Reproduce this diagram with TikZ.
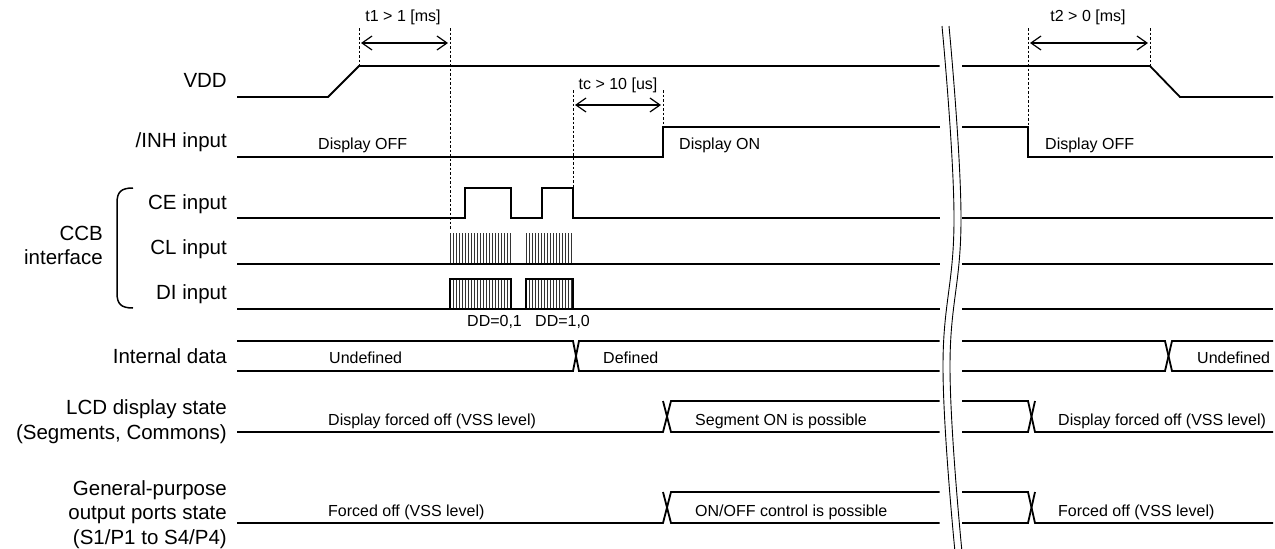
\documentclass[tikz,border=0pt]{standalone}
\usepackage{fontspec}
\setmainfont{Liberation Sans}
\usetikzlibrary{arrows.meta}
\begin{document}
\begin{tikzpicture}[x=1pt,y=-1pt,
  sig/.style={line width=1.8pt, line join=miter},
  guide/.style={line width=0.8pt, dash pattern=on 2.5pt off 2pt},
  dimarrow/.style={line width=1.2pt, {Straight Barb[length=10pt,width=14pt]}-{Straight Barb[length=10pt,width=14pt]}},
  lbl/.style={font=\fontsize{20.5}{24.5}\selectfont, anchor=base east, align=right, inner sep=0pt},
  txt/.style={font=\fontsize{16}{19}\selectfont, anchor=base west, inner sep=0pt},
  ctxt/.style={font=\fontsize{16}{19}\selectfont, anchor=base, inner sep=0pt},
  brk/.style={line width=0.9pt},
  hatch/.style={line width=0.9pt, black!80},
  burstbox/.style={line width=1.5pt}
]
\useasboundingbox (0,0) rectangle (1275,549);

% ---- row labels (base = baseline of the last line)
\node[lbl] (lvdd) at (227,87) {VDD};
\node[lbl] (linh) at (227,147) {/INH input};
\node[lbl] (lce) at (227,209) {CE input};
\node[lbl] (lcl) at (227,254) {CL input};
\node[lbl] (ldi) at (227,299) {DI input};
\node[lbl] (lccb) at (103,264.5) {CCB\\interface};
\node[lbl] (lid) at (227,363) {Internal data};
\node[lbl] (llcd) at (227,439) {LCD display state\\(Segments, Commons)};
\node[lbl] (lgpo) at (227,544) {General-purpose\\output ports state\\(S1/P1 to S4/P4)};

% ---- bracket for CCB interface
\draw[line width=1.5pt] (133,188) .. controls (121,188) and (117,192) .. (117,203)
  -- (117,293) .. controls (117,304) and (121,308) .. (133,308);

% ---- VDD
\draw[sig] (237,97) -- (328,97) -- (359,66) -- (939.5,66);
\draw[sig] (962,66) -- (1150,66) -- (1180,97) -- (1273,97);

% ---- /INH
\draw[sig] (237,157) -- (663,157) -- (663,127) -- (939.5,127);
\draw[sig] (962,127) -- (1028,127) -- (1028,157) -- (1273,157);
\node[txt] (inhoff) at (318,149) {Display OFF};
\node[txt] (inhon) at (679,149) {Display ON};
\node[txt] (inhoff2) at (1045,149) {Display OFF};

% ---- CE
\draw[sig] (237,218) -- (465,218) -- (465,188) -- (511,188) -- (511,218)
  -- (542,218) -- (542,188) -- (573,188) -- (573,218) -- (939.5,218);
\draw[sig] (962,218) -- (1273,218);

% ---- CL
\foreach \x in {450,453,...,511} \draw[hatch] (\x,233) -- (\x,264);
\foreach \x in {526,529,...,573} \draw[hatch] (\x,233) -- (\x,264);
\draw[sig] (237,264) -- (939.5,264);
\draw[sig] (962,264) -- (1273,264);

% ---- DI
\foreach \x in {450,453,...,511} \draw[hatch] (\x,279) -- (\x,309);
\foreach \x in {526,529,...,573} \draw[hatch] (\x,279) -- (\x,309);
\draw[burstbox] (450,309) -- (450,279) -- (511,279) -- (511,309);
\draw[burstbox] (526,309) -- (526,279) -- (573,279) -- (573,309);
\draw[sig] (237,309) -- (939.5,309);
\draw[sig] (962,309) -- (1273,309);
\node[txt] (dd01) at (467,326) {DD=0,1};
\node[txt] (dd10) at (535,326) {DD=1,0};

% ---- Internal data
\draw[sig] (237,341) -- (573,341) -- (579,371) -- (939.5,371);
\draw[sig] (237,371) -- (573,371) -- (579,341) -- (939.5,341);
\draw[sig] (962,341) -- (1165,341) -- (1172,371) -- (1273,371);
\draw[sig] (962,371) -- (1165,371) -- (1172,341) -- (1273,341);
\node[txt] (undef) at (329,363) {Undefined};
\node[txt] (def) at (603,363) {Defined};
\node[txt] (undef2) at (1197,363) {Undefined};

% ---- LCD display state
\draw[sig] (237,432) -- (663,432) -- (671,401) -- (939.5,401);
\draw[sig] (663,401) -- (671,432) -- (939.5,432);
\draw[sig] (962,401) -- (1028,401) -- (1035,432) -- (1273,432);
\draw[sig] (962,432) -- (1028,432) -- (1035,401);
\node[txt] (lcdoff) at (328,425) {Display forced off (VSS level)};
\node[txt] (lcdon) at (695,425) {Segment ON is possible};
\node[txt] (lcdoff2) at (1058,425) {Display forced off (VSS level)};

% ---- General-purpose output ports
\draw[sig] (237,523) -- (663,523) -- (671,492) -- (939.5,492);
\draw[sig] (663,492) -- (671,523) -- (939.5,523);
\draw[sig] (962,492) -- (1028,492) -- (1035,523) -- (1273,523);
\draw[sig] (962,523) -- (1028,523) -- (1035,492);
\node[txt] (gpooff) at (328,516) {Forced off (VSS level)};
\node[txt] (gpoon) at (695,516) {ON/OFF control is possible};
\node[txt] (gpooff2) at (1058,516) {Forced off (VSS level)};

% ---- timing guides
\coordinate (t1a) at (359,28); \coordinate (t1ab) at (359,66);
\coordinate (t1b) at (450,28); \coordinate (t1bb) at (450,230);
\coordinate (tca) at (573,90); \coordinate (tcab) at (573,188);
\coordinate (tcb) at (663,90); \coordinate (tcbb) at (663,127);
\coordinate (t2a) at (1028,28); \coordinate (t2ab) at (1028,127);
\coordinate (t2b) at (1150,28); \coordinate (t2bb) at (1150,66);
\draw[guide] (t1a) -- (t1ab);
\draw[guide] (t1b) -- (t1bb);
\draw[guide] (tca) -- (tcab);
\draw[guide] (tcb) -- (tcbb);
\draw[guide] (t2a) -- (t2ab);
\draw[guide] (t2b) -- (t2bb);

\coordinate (t1l) at (361,43); \coordinate (t1r) at (448,43);
\coordinate (tcl) at (575,105); \coordinate (tcr) at (661,105);
\coordinate (t2l) at (1030,43); \coordinate (t2r) at (1148,43);
\draw[dimarrow] (t1l) -- (t1r);
\draw[dimarrow] (tcl) -- (tcr);
\draw[dimarrow] (t2l) -- (t2r);
\node[ctxt] (t1t) at (403,21) {t1 > 1 [ms]};
\node[ctxt] (tct) at (618,89) {tc > 10 [us]};
\node[ctxt] (t2t) at (1088,21) {t2 > 0 [ms]};

% ---- break marks
\draw[brk] plot[smooth, tension=0.7] coordinates {(942,26) (954,217) (943,368) (955,552)};
\draw[brk] plot[smooth, tension=0.7] coordinates {(949,26) (961,217) (950,368) (962,552)};
\end{tikzpicture}
\end{document}
